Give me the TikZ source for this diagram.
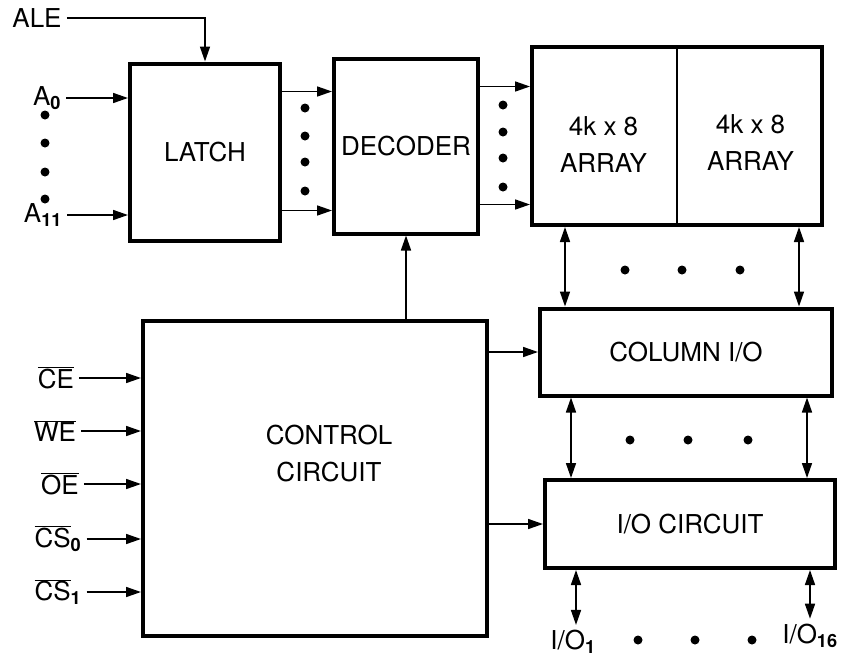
\documentclass[tikz,border=0pt]{standalone}
\usepackage{fontspec}
\setmainfont{TeX Gyre Heros}
\usetikzlibrary{arrows.meta,positioning,calc}

\begin{document}
\begin{tikzpicture}[x=1pt, y=-1pt,
      font=\fontsize{26}{37}\selectfont,
      box/.style={draw, line width=4pt, align=center, inner sep=0pt},
      lbl/.style={inner sep=5pt},
      arr/.style={-{Triangle[length=15pt,width=10pt]}, line width=1.6pt},
      darr/.style={{Triangle[length=15pt,width=10pt]}-{Triangle[length=15pt,width=10pt]}, line width=1.6pt}]
    \useasboundingbox (0,0) rectangle (843,662);
    % blocks
    \node[box, minimum width=150pt, minimum height=177pt] (latch) at (205,152) {LATCH};
    \node[box, minimum width=144pt, minimum height=175pt] (dec) at (406,146) {DECODER};
    \node[box, minimum width=290pt, minimum height=178pt] (array) at (677,136) {};
    \draw[line width=2pt] (array.north) -- (array.south);
    \node (arrl) at ([yshift=-9pt]$(array.center)!0.5!(array.west)$) [align=center] {4k x 8\\ARRAY};
    \node (arrr) at ([yshift=-7pt]$(array.center)!0.5!(array.east)$) [align=center] {4k x 8\\ARRAY};
    \node[box, minimum width=344pt, minimum height=315pt] (ctl) at (315,478) {};
    \node[align=center] (ctltxt) at (329,454) {CONTROL\\CIRCUIT};
    \node[box, minimum width=292pt, minimum height=87pt] (colio) at (686,352) {COLUMN I/O};
    \node[box, minimum width=290pt, minimum height=88pt] (iocirc) at (690,524) {I/O CIRCUIT};
    % inputs
    \node[lbl] (ale) at (37,18) {ALE};
    \node[lbl] (a0) at (47,98) {A$_{\mathbf{0}}$};
    \node[lbl] (a11) at (43,215) {A$_{\mathbf{11}}$};
    \draw[arr] (ale.east) -| (latch.north);
    \draw[arr] (a0.east) -- (a0.east -| latch.west);
    \draw[arr] (a11.east) -- (a11.east -| latch.west);
    \node[lbl] (ce) at (56,378) {$\overline{\mbox{CE}}$};
    \node[lbl] (we) at (55,431) {$\overline{\mbox{WE}}$};
    \node[lbl] (oe) at (60,484) {$\overline{\mbox{OE}}$};
    \node[lbl] (cs0) at (58,539) {$\overline{\mbox{CS}}_{\mathbf{0}}$};
    \node[lbl] (cs1) at (58,592) {$\overline{\mbox{CS}}_{\mathbf{1}}$};
    \foreach \n in {ce,we,oe,cs0,cs1} \draw[arr] (\n.east) -- (\n.east -| ctl.west);
    % internal paths
    \draw[arr] ([yshift=-30pt]latch.north east) -- ([yshift=-30pt]latch.north east -| dec.west);
    \draw[arr] ([yshift=32pt]latch.south east) -- ([yshift=32pt]latch.south east -| dec.west);
    \draw[arr] ([yshift=-30pt]dec.north east) -- ([yshift=-30pt]dec.north east -| array.west);
    \draw[arr] ([yshift=31pt]dec.south east) -- ([yshift=31pt]dec.south east -| array.west);
    \draw[arr] (ctl.north -| dec.south) -- (dec.south);
    \draw[arr] (ctl.east |- colio.west) -- (colio.west);
    \draw[arr] (ctl.east |- iocirc.west) -- (iocirc.west);
    \draw[darr] ([xshift=35pt]array.south west) -- ([xshift=35pt]array.south west |- colio.north);
    \draw[darr] ([xshift=-25pt]array.south east) -- ([xshift=-25pt]array.south east |- colio.north);
    \draw[darr] ([xshift=28pt]iocirc.north west) -- ([xshift=28pt]iocirc.north west |- colio.south);
    \draw[darr] ([xshift=-30pt]iocirc.north east) -- ([xshift=-30pt]iocirc.north east |- colio.south);
    % outputs
    \node[lbl] (io1) at (573,642) {I/O$_{\mathbf{1}}$};
    \node[lbl] (io16) at (810,636) {I/O$_{\mathbf{16}}$};
    \draw[darr] ([xshift=33pt]iocirc.south west) -- ([xshift=33pt]iocirc.south west |- io1.north);
    \draw[darr] ([xshift=-27pt]iocirc.south east) -- ([xshift=-27pt]iocirc.south east |- io16.north);
    % dots
    \foreach \y in {115,143,172,199} \fill (45,\y) circle[radius=4.5pt];
    \foreach \y in {108,136,162,191} \fill (305,\y) circle[radius=4.5pt];
    \foreach \y in {105,132,158,187} \fill (503,\y) circle[radius=4.5pt];
    \foreach \x in {625,682,740} \fill (\x,270) circle[radius=4.5pt];
    \foreach \x in {630,688,748} \fill (\x,440) circle[radius=4.5pt];
    \foreach \x in {638,695,752} \fill (\x,640) circle[radius=4.5pt];
  \end{tikzpicture}
\end{document}
